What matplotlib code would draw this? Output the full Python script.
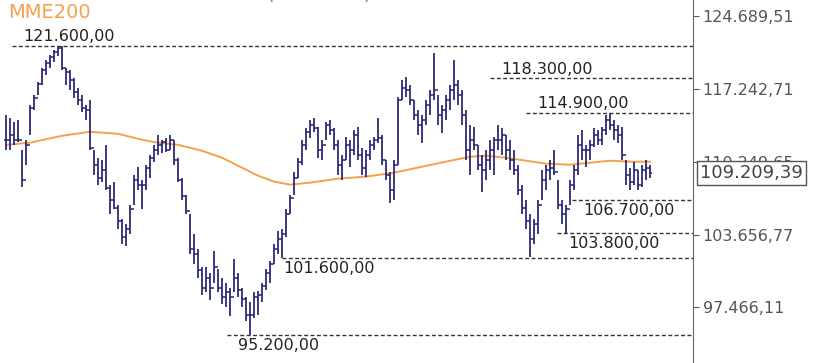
import matplotlib
matplotlib.use("Agg")
import matplotlib.pyplot as plt
from matplotlib.ticker import NullLocator
import matplotlib.transforms as mtransforms

# prices in thousands of points (hourly bars, Ibovespa)
highs = [114.70, 114.41, 114.03, 114.22, 111.36, 112.31, 115.67, 116.66, 117.94, 119.34,
         120.15, 120.66, 121.18, 121.50, 121.60, 119.34, 119.14, 118.34, 117.35, 116.66,
         115.67, 116.17, 111.36, 110.62, 110.43, 111.83, 108.13, 108.41, 106.33, 105.00,
         104.56, 106.33, 109.05, 109.79, 108.59, 109.97, 110.90, 111.83, 112.78, 112.31,
         112.50, 112.78, 112.31, 110.62, 108.77, 107.22, 105.44, 103.69, 102.40, 100.90,
         100.90, 100.32, 102.23, 100.73, 99.92, 99.52, 99.10, 101.56, 100.32, 99.10,
         98.30, 97.91, 98.71, 98.86, 99.52, 100.73, 101.40, 102.83, 103.95, 104.12,
         105.89, 107.22, 109.33, 110.62, 112.31, 113.45, 114.22, 114.41, 113.55, 112.31,
         114.03, 114.22, 113.45, 112.31, 110.90, 112.59, 112.31, 113.26, 113.55, 111.55,
         111.36, 112.31, 112.59, 114.41, 112.78, 110.43, 109.33, 110.43, 116.46, 118.14,
         118.44, 117.64, 116.17, 115.19, 114.70, 116.17, 117.15, 120.87, 116.66, 115.67,
         116.66, 117.64, 120.15, 118.14, 117.15, 115.19, 113.74, 113.55, 111.83, 110.90,
         111.36, 112.31, 112.59, 113.74, 113.45, 112.78, 112.31, 111.36, 109.97, 108.13,
         106.77, 105.44, 105.00, 106.77, 109.51, 109.97, 110.43, 111.36, 108.59, 106.77,
         106.33, 108.59, 109.97, 112.78, 113.26, 111.83, 112.31, 113.45, 113.26, 113.55,
         114.70, 114.90, 114.22, 113.74, 113.55, 110.43, 109.70, 110.25, 109.51, 109.97,
         110.43, 109.97]
lows = [111.36, 111.36, 111.83, 112.12, 107.95, 109.97, 112.78, 115.19, 116.66, 117.64,
        118.64, 119.34, 119.94, 120.55, 119.14, 117.64, 117.15, 116.36, 115.67, 115.00,
        114.22, 111.36, 109.05, 108.13, 108.41, 107.67, 105.44, 105.89, 104.12, 102.83,
        102.66, 103.69, 106.33, 107.67, 105.89, 107.67, 108.77, 110.25, 110.90, 111.08,
        111.17, 111.36, 109.97, 108.41, 106.77, 105.44, 101.98, 101.15, 99.92, 98.46,
        98.71, 98.07, 99.52, 98.71, 97.75, 97.52, 96.73, 98.71, 98.30, 97.52,
        96.35, 95.20, 96.58, 96.89, 97.91, 98.94, 99.52, 101.15, 101.98, 101.60,
        103.44, 105.44, 107.22, 108.77, 109.97, 111.36, 112.50, 113.07, 110.62, 110.43,
        112.31, 112.78, 111.36, 109.05, 108.59, 110.43, 109.79, 110.90, 110.43, 109.05,
        108.86, 110.43, 111.36, 112.03, 109.97, 108.59, 106.50, 106.77, 109.97, 116.17,
        116.46, 115.67, 114.22, 112.78, 112.03, 113.74, 114.70, 116.17, 113.74, 112.97,
        114.22, 115.19, 116.17, 115.67, 113.74, 110.43, 109.05, 111.36, 109.51, 107.49,
        108.59, 109.51, 109.05, 111.36, 110.90, 110.43, 109.51, 109.05, 107.22, 105.44,
        104.12, 101.70, 102.83, 103.69, 106.77, 107.67, 108.59, 109.05, 105.89, 104.56,
        103.80, 106.33, 107.67, 109.05, 110.43, 109.79, 110.43, 111.64, 111.83, 111.83,
        112.78, 113.26, 112.31, 112.03, 110.43, 108.13, 107.67, 108.13, 107.67, 107.95,
        108.59, 108.77]
closes = [112.31, 112.78, 112.31, 112.31, 108.59, 111.83, 115.38, 116.36, 117.74, 119.14,
          119.84, 120.45, 120.97, 121.40, 119.34, 118.94, 118.14, 116.96, 116.17, 115.38,
          115.19, 111.55, 109.97, 108.77, 109.51, 107.86, 106.77, 106.06, 104.82, 103.44,
          104.12, 105.89, 108.59, 108.13, 108.13, 109.70, 110.62, 111.36, 111.83, 112.12,
          111.36, 112.31, 110.43, 108.59, 107.13, 105.71, 102.40, 101.98, 100.57, 99.10,
          99.92, 99.10, 100.90, 99.10, 98.30, 98.71, 98.30, 99.92, 98.94, 98.15,
          96.89, 96.89, 98.30, 98.46, 99.26, 100.32, 101.15, 102.40, 103.27, 103.69,
          105.44, 106.95, 108.77, 110.25, 111.83, 113.07, 113.74, 113.45, 111.36, 111.83,
          113.74, 113.26, 111.83, 109.97, 110.43, 111.83, 111.36, 112.78, 110.90, 109.70,
          110.90, 111.83, 112.31, 112.50, 110.43, 109.05, 107.67, 109.97, 116.17, 117.35,
          117.15, 116.17, 114.70, 113.74, 114.22, 115.67, 116.66, 117.15, 114.70, 115.19,
          116.17, 117.15, 117.64, 116.66, 114.70, 111.36, 112.31, 111.83, 109.97, 109.51,
          110.43, 111.36, 112.31, 112.31, 112.78, 111.36, 110.43, 109.51, 107.67, 106.06,
          104.82, 103.27, 104.56, 106.33, 108.59, 109.51, 109.70, 109.33, 106.33, 105.44,
          105.89, 108.13, 109.51, 111.83, 111.36, 111.36, 111.83, 112.78, 112.31, 113.26,
          114.22, 113.74, 113.26, 112.78, 110.90, 109.05, 108.41, 109.51, 108.13, 109.51,
          109.70, 109.209]

# MME200 read at selected bars
mme_bar = [0, 6, 14, 21, 28, 34, 38, 43, 49, 54, 58, 63, 67, 71, 76, 83, 90, 97,
           103, 110, 116, 120, 125, 130, 135, 141, 146, 151, 156, 161]
mme_val = [111.83, 112.03, 112.69, 113.07, 112.88, 112.31, 112.03, 111.83, 111.27, 110.62,
           109.88, 108.95, 108.41, 108.13, 108.31, 108.68, 108.86, 109.23, 109.70, 110.25,
           110.71, 110.81, 110.62, 110.34, 110.06, 109.97, 110.15, 110.34, 110.25, 110.25]

# support / resistance levels and the bar they start from
level_val = [121.6, 118.3, 114.9, 106.7, 103.8, 101.6, 95.2]
level_start = [1.5, 121, 130, 141.5, 137.75, 69, 55.25]
level_text = ["121.600,00", "118.300,00", "114.900,00", "106.700,00",
              "103.800,00", "101.600,00", "95.200,00"]
level_above = [True, True, True, False, False, False, False]

ytick_val = [124.68951, 117.24271, 110.24965, 103.65677, 97.46611]
ytick_lab = ["124.689,51", "117.242,71", "110.249,65", "103.656,77", "97.466,11"]
last_price = "109.209,39"

BAR = "#23246f"
ORANGE = "#f4a04c"
GREY = "#5a5a5a"

W, H = 820, 363
fig = plt.figure(figsize=(W / 100, H / 100), dpi=100)
ax = fig.add_axes([0, 0, 693 / W, 1])

n = len(highs)
idx = list(range(n))
opens = [closes[0]] + closes[:-1]
ax.vlines(idx, lows, highs, color=BAR, lw=1.25, zorder=3)
ax.hlines(opens, [i - 0.5 for i in idx], idx, color=BAR, lw=1.1, zorder=3)
ax.hlines(closes, idx, [i + 0.5 for i in idx], color=BAR, lw=1.1, zorder=3)

ax.plot(mme_bar, mme_val, color=ORANGE, lw=1.4, zorder=2)

xmax = 693 / 4 - 1.5
for v, s, t, up in zip(level_val, level_start, level_text, level_above):
    ax.plot([s, xmax], [v, v], color="#333333", lw=1.0, dashes=(2.8, 1.8), zorder=1,
            clip_on=False)
    ax.annotate(t, (s, v), xytext=(8 if s != 69 else 1, 1 if up else -2),
                textcoords="offset points", ha="left",
                va="bottom" if up else "top", fontsize=11.5, color="#222222")

ax.set_xlim(-1.5, xmax)
ax.set_yscale("log")
ax.set_ylim(93.0, 126.39)
ax.set_yticks(ytick_val)
ax.set_yticklabels(ytick_lab)
ax.yaxis.set_minor_locator(NullLocator())
ax.yaxis.tick_right()
ax.tick_params(axis="y", direction="out", length=4, color=GREY, labelcolor="#555555",
               labelsize=11.5, pad=3)
ax.set_xticks([])
for side in ("top", "left", "bottom"):
    ax.spines[side].set_visible(False)
ax.spines["right"].set_color("#666666")

# last price box
trans = mtransforms.blended_transform_factory(ax.transAxes, ax.transData)
ax.text(1 + 7 / 693, 109.209, last_price, transform=trans, ha="left", va="center",
        fontsize=13, color="#444444", zorder=10, clip_on=False,
        bbox=dict(boxstyle="square,pad=0.18", fc="white", ec="#555555", lw=1))

fig.text(8 / W, 1 - 3 / H, "MME200", color=ORANGE, fontsize=14, va="top", ha="left")
fig.text(155 / W, 1 + 2 / H, "Índice Bovespa - Bovespa, 1 Hora", color="#8a8a8a",
         fontsize=13, va="baseline", ha="left")

fig.savefig("out.png", dpi=100)
